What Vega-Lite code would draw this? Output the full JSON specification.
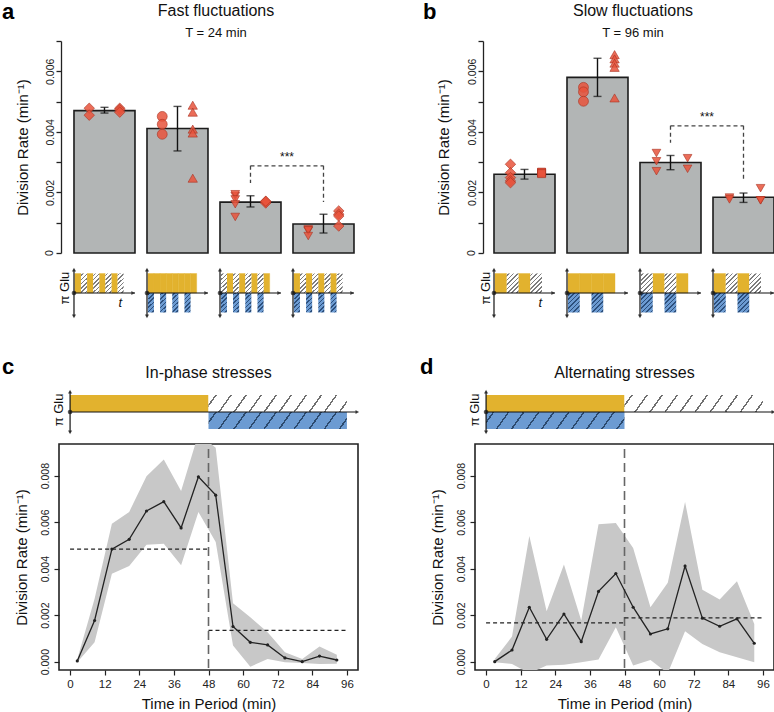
{
"$schema":"https://vega.github.io/schema/vega-lite/v6.json",
"padding":{"left":1,"top":1,"right":0,"bottom":0},
"autosize":{"type":"pad"},
"columns":2,
"spacing":{"row":10,"column":117},
"bounds":"flush",
"resolve":{"scale":{"xOffset":"independent"}},
"datasets":{
"aBars":[
{"cond":"Glucose only","rate":0.00470,"lo":0.00462,"hi":0.00481},
{"cond":"Stress only","rate":0.00411,"lo":0.00337,"hi":0.00484},
{"cond":"Alternating","rate":0.00168,"lo":0.00152,"hi":0.00189},
{"cond":"In-phase","rate":0.00096,"lo":0.00066,"hi":0.00128}],
"bBars":[
{"cond":"Glucose only","rate":0.00260,"lo":0.00244,"hi":0.00276},
{"cond":"Stress only","rate":0.00580,"lo":0.00517,"hi":0.00643},
{"cond":"Alternating","rate":0.00299,"lo":0.00275,"hi":0.00322},
{"cond":"In-phase","rate":0.00184,"lo":0.00167,"hi":0.00198}],
"aPts":[
{"cond":"Glucose only","run":1,"sym":"D","rate":0.00478},
{"cond":"Glucose only","run":1,"sym":"D","rate":0.00455},
{"cond":"Glucose only","run":2,"sym":"D","rate":0.00478},
{"cond":"Glucose only","run":2,"sym":"D","rate":0.00473},
{"cond":"Glucose only","run":2,"sym":"D","rate":0.00465},
{"cond":"Stress only","run":1,"sym":"C","rate":0.00451},
{"cond":"Stress only","run":1,"sym":"C","rate":0.00425},
{"cond":"Stress only","run":1,"sym":"C","rate":0.00392},
{"cond":"Stress only","run":2,"sym":"U","rate":0.00488},
{"cond":"Stress only","run":2,"sym":"U","rate":0.00465},
{"cond":"Stress only","run":2,"sym":"U","rate":0.00409},
{"cond":"Stress only","run":2,"sym":"U","rate":0.00396},
{"cond":"Stress only","run":2,"sym":"U","rate":0.00247},
{"cond":"Alternating","run":1,"sym":"V","rate":0.00188},
{"cond":"Alternating","run":1,"sym":"V","rate":0.00194},
{"cond":"Alternating","run":1,"sym":"V","rate":0.00177},
{"cond":"Alternating","run":1,"sym":"V","rate":0.00161},
{"cond":"Alternating","run":1,"sym":"V","rate":0.00119},
{"cond":"Alternating","run":2,"sym":"D","rate":0.00170},
{"cond":"Alternating","run":2,"sym":"D","rate":0.00168},
{"cond":"Alternating","run":2,"sym":"D","rate":0.00165},
{"cond":"Alternating","run":2,"sym":"D","rate":0.00171},
{"cond":"In-phase","run":1,"sym":"V","rate":0.00078},
{"cond":"In-phase","run":1,"sym":"V","rate":0.00073},
{"cond":"In-phase","run":1,"sym":"V","rate":0.00075},
{"cond":"In-phase","run":1,"sym":"V","rate":0.00056},
{"cond":"In-phase","run":2,"sym":"D","rate":0.00139},
{"cond":"In-phase","run":2,"sym":"D","rate":0.00128},
{"cond":"In-phase","run":2,"sym":"D","rate":0.00122},
{"cond":"In-phase","run":2,"sym":"D","rate":0.00089}],
"bPts":[
{"cond":"Glucose only","run":1,"sym":"D","rate":0.00293},
{"cond":"Glucose only","run":1,"sym":"D","rate":0.00265},
{"cond":"Glucose only","run":1,"sym":"D","rate":0.00249},
{"cond":"Glucose only","run":1,"sym":"D","rate":0.00238},
{"cond":"Glucose only","run":1,"sym":"D","rate":0.00232},
{"cond":"Glucose only","run":2,"sym":"S","rate":0.00265},
{"cond":"Glucose only","run":2,"sym":"S","rate":0.00265},
{"cond":"Glucose only","run":2,"sym":"S","rate":0.00267},
{"cond":"Glucose only","run":2,"sym":"S","rate":0.00262},
{"cond":"Stress only","run":1,"sym":"C","rate":0.00547},
{"cond":"Stress only","run":1,"sym":"C","rate":0.00532},
{"cond":"Stress only","run":1,"sym":"C","rate":0.00501},
{"cond":"Stress only","run":2,"sym":"U","rate":0.00655},
{"cond":"Stress only","run":2,"sym":"U","rate":0.00641},
{"cond":"Stress only","run":2,"sym":"U","rate":0.00627},
{"cond":"Stress only","run":2,"sym":"U","rate":0.00613},
{"cond":"Stress only","run":2,"sym":"U","rate":0.00512},
{"cond":"Alternating","run":1,"sym":"V","rate":0.00330},
{"cond":"Alternating","run":1,"sym":"V","rate":0.00303},
{"cond":"Alternating","run":1,"sym":"V","rate":0.00270},
{"cond":"Alternating","run":2,"sym":"V","rate":0.00313},
{"cond":"Alternating","run":2,"sym":"V","rate":0.00278},
{"cond":"In-phase","run":1,"sym":"V","rate":0.00183},
{"cond":"In-phase","run":1,"sym":"V","rate":0.00177},
{"cond":"In-phase","run":2,"sym":"V","rate":0.00174},
{"cond":"In-phase","run":2,"sym":"V","rate":0.00174},
{"cond":"In-phase","run":2,"sym":"V","rate":0.00214}],
"aSig":[{"from":"Alternating","to":"In-phase","top":0.00288,"endL":0.00231,"endR":0.00168,"textY":0.00303}],
"bSig":[{"from":"Alternating","to":"In-phase","top":0.00420,"endL":0.00364,"endR":0.00238,"textY":0.00435}],
"zeroLab":[{"cond":"Glucose only","rate":0,"label":"0"}],
"aSeg":[
{"cond":"Glucose only","seg":0,"glu":1,"stress":0},{"cond":"Glucose only","seg":1,"glu":0,"stress":0},
{"cond":"Glucose only","seg":2,"glu":1,"stress":0},{"cond":"Glucose only","seg":3,"glu":0,"stress":0},
{"cond":"Glucose only","seg":4,"glu":1,"stress":0},{"cond":"Glucose only","seg":5,"glu":0,"stress":0},
{"cond":"Glucose only","seg":6,"glu":1,"stress":0},{"cond":"Glucose only","seg":7,"glu":0,"stress":0},
{"cond":"Stress only","seg":0,"glu":1,"stress":1},{"cond":"Stress only","seg":1,"glu":1,"stress":0},
{"cond":"Stress only","seg":2,"glu":1,"stress":1},{"cond":"Stress only","seg":3,"glu":1,"stress":0},
{"cond":"Stress only","seg":4,"glu":1,"stress":1},{"cond":"Stress only","seg":5,"glu":1,"stress":0},
{"cond":"Stress only","seg":6,"glu":1,"stress":1},{"cond":"Stress only","seg":7,"glu":1,"stress":0},
{"cond":"Alternating","seg":0,"glu":0,"stress":1},{"cond":"Alternating","seg":1,"glu":1,"stress":0},
{"cond":"Alternating","seg":2,"glu":0,"stress":1},{"cond":"Alternating","seg":3,"glu":1,"stress":0},
{"cond":"Alternating","seg":4,"glu":0,"stress":1},{"cond":"Alternating","seg":5,"glu":1,"stress":0},
{"cond":"Alternating","seg":6,"glu":0,"stress":1},{"cond":"Alternating","seg":7,"glu":1,"stress":0},
{"cond":"In-phase","seg":0,"glu":1,"stress":1},{"cond":"In-phase","seg":1,"glu":0,"stress":0},
{"cond":"In-phase","seg":2,"glu":1,"stress":1},{"cond":"In-phase","seg":3,"glu":0,"stress":0},
{"cond":"In-phase","seg":4,"glu":1,"stress":1},{"cond":"In-phase","seg":5,"glu":0,"stress":0},
{"cond":"In-phase","seg":6,"glu":1,"stress":1},{"cond":"In-phase","seg":7,"glu":0,"stress":0}],
"bSeg":[
{"cond":"Glucose only","seg":0,"glu":1,"stress":0},{"cond":"Glucose only","seg":1,"glu":0,"stress":0},
{"cond":"Glucose only","seg":2,"glu":1,"stress":0},{"cond":"Glucose only","seg":3,"glu":0,"stress":0},
{"cond":"Stress only","seg":0,"glu":1,"stress":1},{"cond":"Stress only","seg":1,"glu":1,"stress":0},
{"cond":"Stress only","seg":2,"glu":1,"stress":1},{"cond":"Stress only","seg":3,"glu":1,"stress":0},
{"cond":"Alternating","seg":0,"glu":0,"stress":1},{"cond":"Alternating","seg":1,"glu":1,"stress":0},
{"cond":"Alternating","seg":2,"glu":0,"stress":1},{"cond":"Alternating","seg":3,"glu":1,"stress":0},
{"cond":"In-phase","seg":0,"glu":1,"stress":1},{"cond":"In-phase","seg":1,"glu":0,"stress":0},
{"cond":"In-phase","seg":2,"glu":1,"stress":1},{"cond":"In-phase","seg":3,"glu":0,"stress":0}],
"cSch":[{"start":0,"end":48,"glu":1,"stress":0},{"start":48,"end":96,"glu":0,"stress":1}],
"dSch":[{"start":0,"end":48,"glu":1,"stress":1},{"start":48,"end":96,"glu":0,"stress":0}],
"cLine":[
{"t":2.5,"rate":0.00003,"lo":-0.00003,"hi":0.0001},
{"t":8.5,"rate":0.00177,"lo":0.00083,"hi":0.0027},
{"t":14.5,"rate":0.00484,"lo":0.00378,"hi":0.00593},
{"t":20.5,"rate":0.00526,"lo":0.00411,"hi":0.00644},
{"t":26.5,"rate":0.00648,"lo":0.00503,"hi":0.00797},
{"t":32.5,"rate":0.00688,"lo":0.00507,"hi":0.00869},
{"t":38.5,"rate":0.00575,"lo":0.00414,"hi":0.00734},
{"t":44.5,"rate":0.00795,"lo":0.00644,"hi":0.0098},
{"t":50.5,"rate":0.00716,"lo":0.00514,"hi":0.0092},
{"t":56.5,"rate":0.00151,"lo":0.00069,"hi":0.00251},
{"t":62.5,"rate":0.00083,"lo":-0.00022,"hi":0.00191},
{"t":68.5,"rate":0.00072,"lo":0.00011,"hi":0.00126},
{"t":74.5,"rate":0.00016,"lo":-0.00003,"hi":0.0004},
{"t":80.5,"rate":0.0,"lo":-0.00006,"hi":0.00011},
{"t":86.5,"rate":0.00024,"lo":-0.0001,"hi":0.00065},
{"t":92.5,"rate":0.00007,"lo":-0.00009,"hi":0.0003}],
"dLine":[
{"t":3,"rate":0.0,"lo":-0.00003,"hi":0.00011},
{"t":9,"rate":0.0005,"lo":-0.0001,"hi":0.00108},
{"t":15,"rate":0.00234,"lo":-0.0005,"hi":0.0054},
{"t":21,"rate":0.00096,"lo":-0.00017,"hi":0.00217},
{"t":27,"rate":0.00205,"lo":-0.00013,"hi":0.00418},
{"t":33,"rate":0.00086,"lo":-0.00003,"hi":0.00177},
{"t":39,"rate":0.00302,"lo":0.00009,"hi":0.00591},
{"t":45,"rate":0.00379,"lo":0.00148,"hi":0.00596},
{"t":51,"rate":0.00234,"lo":-0.00017,"hi":0.00489},
{"t":57,"rate":0.00119,"lo":0.00007,"hi":0.00234},
{"t":63,"rate":0.00141,"lo":-0.0005,"hi":0.00339},
{"t":69,"rate":0.00411,"lo":0.00131,"hi":0.00687},
{"t":75,"rate":0.00187,"lo":0.00076,"hi":0.00309},
{"t":81,"rate":0.00152,"lo":0.0004,"hi":0.00267},
{"t":87,"rate":0.00184,"lo":0.00019,"hi":0.00346},
{"t":93,"rate":0.00079,"lo":-0.00003,"hi":0.00162}],
"cMean":[{"t0":0,"t1":48,"m":0.00484},{"t0":48,"t1":96,"m":0.00134}],
"dMean":[{"t0":0,"t1":48,"m":0.00167},{"t0":48,"t1":96,"m":0.00188}],
"one":[{}]
},
"concat":[
{
"width":299,"height":212,"view":{"stroke":null},
"title":{"text":"Fast fluctuations","subtitle":"T = 24 min","fontSize":16,"subtitleFontSize":13,"fontWeight":"normal","color":"#111","subtitleColor":"#111","anchor":"middle","frame":"group","dx":7.5,"offset":0,"subtitlePadding":8},
"layer":[
{"data":{"name":"aBars"},"mark":{"type":"bar","fill":"#B2B5B5","stroke":"#1c1c1c","strokeWidth":1.6},
"encoding":{"x":{"field":"cond","type":"nominal","scale":{"type":"band","domain":["Glucose only","Stress only","Alternating","In-phase"],"paddingInner":0.1644,"paddingOuter":0.1301,"align":0.789},"axis":null},
"y":{"field":"rate","type":"quantitative","scale":{"domain":[0,0.007],"nice":false,"zero":false},"axis":{"orient":"left","offset":-2,"values":[0,0.001,0.002,0.003,0.004,0.005,0.006,0.007],"tickCount":30,"labelExpr":"datum.value < 0.0005 ? '' : (round(datum.value*1000) % 2 == 0 ? format(datum.value, '.3f') : '')","labelAngle":270,"labelAlign":"center","labelBaseline":"bottom","labelFontSize":10.5,"labelPadding":1,"labelFlush":false,"labelBound":false,"tickSize":5,"tickWidth":1.3,"tickColor":"#222","domainColor":"#222","domainWidth":1.3,"title":"Division Rate (min⁻¹)","titleFontSize":15,"titlePadding":15,"titleFontWeight":"normal"}}}},
{"data":{"name":"zeroLab"},"mark":{"type":"text","angle":270,"fontSize":10.5,"align":"center","baseline":"bottom","fill":"#222"},"encoding":{"x":{"field":"cond","type":"nominal","bandPosition":-0.311,"axis":null},"y":{"field":"rate","type":"quantitative"},"text":{"field":"label"}}},
{"data":{"name":"aBars"},"mark":{"type":"rule","stroke":"#111","strokeWidth":1.4},"encoding":{"x":{"field":"cond","type":"nominal","axis":null},"y":{"field":"lo","type":"quantitative"},"y2":{"field":"hi"}}},
{"data":{"name":"aBars"},"mark":{"type":"tick","color":"#111","thickness":1.4,"size":8},"encoding":{"x":{"field":"cond","type":"nominal","axis":null},"y":{"field":"lo","type":"quantitative"}}},
{"data":{"name":"aBars"},"mark":{"type":"tick","color":"#111","thickness":1.4,"size":8},"encoding":{"x":{"field":"cond","type":"nominal","axis":null},"y":{"field":"hi","type":"quantitative"}}},
{"data":{"name":"aPts"},"transform":[{"filter":"datum.run == 1"}],"mark":{"type":"point","filled":true,"fill":"#E8533C","fillOpacity":0.85,"stroke":"#A83222","strokeWidth":0.6},"encoding":{"x":{"field":"cond","type":"nominal","bandPosition":0.25,"axis":null},"y":{"field":"rate","type":"quantitative"},"shape":{"field":"sym","type":"nominal","scale":{"domain":["D","C","U","V","S"],"range":["diamond","circle","triangle-up","triangle-down","square"]},"legend":null},"size":{"field":"sym","type":"nominal","scale":{"domain":["D","C","U","V","S"],"range":[110,64,100,100,56]},"legend":null}}},
{"data":{"name":"aPts"},"transform":[{"filter":"datum.run == 2"}],"mark":{"type":"point","filled":true,"fill":"#E8533C","fillOpacity":0.85,"stroke":"#A83222","strokeWidth":0.6},"encoding":{"x":{"field":"cond","type":"nominal","bandPosition":0.75,"axis":null},"y":{"field":"rate","type":"quantitative"},"shape":{"field":"sym","type":"nominal","legend":null},"size":{"field":"sym","type":"nominal","legend":null}}},
{"data":{"name":"aSig"},"mark":{"type":"rule","stroke":"#444","strokeWidth":1.3,"strokeDash":[4,3]},"encoding":{"x":{"field":"from","type":"nominal","axis":null},"x2":{"field":"to"},"y":{"field":"top","type":"quantitative"}}},
{"data":{"name":"aSig"},"mark":{"type":"rule","stroke":"#444","strokeWidth":1.3,"strokeDash":[4,3]},"encoding":{"x":{"field":"from","type":"nominal","axis":null},"y":{"field":"top","type":"quantitative"},"y2":{"field":"endL"}}},
{"data":{"name":"aSig"},"mark":{"type":"rule","stroke":"#444","strokeWidth":1.3,"strokeDash":[4,3]},"encoding":{"x":{"field":"to","type":"nominal","axis":null},"y":{"field":"top","type":"quantitative"},"y2":{"field":"endR"}}},
{"data":{"name":"aSig"},"mark":{"type":"text","text":"***","fontSize":12,"baseline":"alphabetic","align":"center","fill":"#111"},"encoding":{"x":{"field":"from","type":"nominal","bandPosition":1.098,"axis":null},"y":{"field":"textY","type":"quantitative"}}}
]
},
{
"width":299,"height":212,"view":{"stroke":null},
"title":{"text":"Slow fluctuations","subtitle":"T = 96 min","fontSize":16,"subtitleFontSize":13,"fontWeight":"normal","color":"#111","subtitleColor":"#111","anchor":"middle","frame":"group","dx":8.5,"offset":0,"subtitlePadding":8},
"layer":[
{"data":{"name":"bBars"},"mark":{"type":"bar","fill":"#B2B5B5","stroke":"#1c1c1c","strokeWidth":1.6},
"encoding":{"x":{"field":"cond","type":"nominal","scale":{"type":"band","domain":["Glucose only","Stress only","Alternating","In-phase"],"paddingInner":0.1644,"paddingOuter":0.1301,"align":1},"axis":null},
"y":{"field":"rate","type":"quantitative","scale":{"domain":[0,0.007],"nice":false,"zero":false},"axis":{"orient":"left","offset":-8,"values":[0,0.001,0.002,0.003,0.004,0.005,0.006,0.007],"tickCount":30,"labelExpr":"datum.value < 0.0005 ? '' : (round(datum.value*1000) % 2 == 0 ? format(datum.value, '.3f') : '')","labelAngle":270,"labelAlign":"center","labelBaseline":"bottom","labelFontSize":10.5,"labelPadding":1,"labelFlush":false,"labelBound":false,"tickSize":5,"tickWidth":1.3,"tickColor":"#222","domainColor":"#222","domainWidth":1.3,"title":"Division Rate (min⁻¹)","titleFontSize":15,"titlePadding":16,"titleFontWeight":"normal"}}}},
{"data":{"name":"zeroLab"},"mark":{"type":"text","angle":270,"fontSize":10.5,"align":"center","baseline":"bottom","fill":"#222"},"encoding":{"x":{"field":"cond","type":"nominal","bandPosition":-0.279,"axis":null},"y":{"field":"rate","type":"quantitative"},"text":{"field":"label"}}},
{"data":{"name":"bBars"},"mark":{"type":"rule","stroke":"#111","strokeWidth":1.4},"encoding":{"x":{"field":"cond","type":"nominal","axis":null},"y":{"field":"lo","type":"quantitative"},"y2":{"field":"hi"}}},
{"data":{"name":"bBars"},"mark":{"type":"tick","color":"#111","thickness":1.4,"size":8},"encoding":{"x":{"field":"cond","type":"nominal","axis":null},"y":{"field":"lo","type":"quantitative"}}},
{"data":{"name":"bBars"},"mark":{"type":"tick","color":"#111","thickness":1.4,"size":8},"encoding":{"x":{"field":"cond","type":"nominal","axis":null},"y":{"field":"hi","type":"quantitative"}}},
{"data":{"name":"bPts"},"transform":[{"filter":"datum.run == 1"}],"mark":{"type":"point","filled":true,"fill":"#E8533C","fillOpacity":0.85,"stroke":"#A83222","strokeWidth":0.6},"encoding":{"x":{"field":"cond","type":"nominal","bandPosition":0.27,"axis":null},"y":{"field":"rate","type":"quantitative"},"shape":{"field":"sym","type":"nominal","scale":{"domain":["D","C","U","V","S"],"range":["diamond","circle","triangle-up","triangle-down","square"]},"legend":null},"size":{"field":"sym","type":"nominal","scale":{"domain":["D","C","U","V","S"],"range":[110,64,100,100,56]},"legend":null}}},
{"data":{"name":"bPts"},"transform":[{"filter":"datum.run == 2"}],"mark":{"type":"point","filled":true,"fill":"#E8533C","fillOpacity":0.85,"stroke":"#A83222","strokeWidth":0.6},"encoding":{"x":{"field":"cond","type":"nominal","bandPosition":0.78,"axis":null},"y":{"field":"rate","type":"quantitative"},"shape":{"field":"sym","type":"nominal","legend":null},"size":{"field":"sym","type":"nominal","legend":null}}},
{"data":{"name":"bSig"},"mark":{"type":"rule","stroke":"#444","strokeWidth":1.3,"strokeDash":[4,3]},"encoding":{"x":{"field":"from","type":"nominal","axis":null},"x2":{"field":"to"},"y":{"field":"top","type":"quantitative"}}},
{"data":{"name":"bSig"},"mark":{"type":"rule","stroke":"#444","strokeWidth":1.3,"strokeDash":[4,3]},"encoding":{"x":{"field":"from","type":"nominal","axis":null},"y":{"field":"top","type":"quantitative"},"y2":{"field":"endL"}}},
{"data":{"name":"bSig"},"mark":{"type":"rule","stroke":"#444","strokeWidth":1.3,"strokeDash":[4,3]},"encoding":{"x":{"field":"to","type":"nominal","axis":null},"y":{"field":"top","type":"quantitative"},"y2":{"field":"endR"}}},
{"data":{"name":"bSig"},"mark":{"type":"text","text":"***","fontSize":12,"baseline":"alphabetic","align":"center","fill":"#111"},"encoding":{"x":{"field":"from","type":"nominal","bandPosition":1.098,"axis":null},"y":{"field":"textY","type":"quantitative"}}}
]
},
{
"width":299,"height":117,"view":{"stroke":null},
"layer":[
{"data":{"name":"aSeg"},"transform":[{"filter":"datum.glu == 1"}],"mark":{"type":"bar","fill":"#E2B22E","stroke":"#E2B22E","strokeWidth":0.4},
"encoding":{"x":{"field":"cond","type":"nominal","scale":{"type":"band","domain":["Glucose only","Stress only","Alternating","In-phase"],"paddingInner":0.1644,"paddingOuter":0.1301,"align":0.789},"axis":null},
"xOffset":{"field":"seg","type":"nominal","scale":{"domain":[0,1,2,3,4,5,6,7],"paddingInner":0,"paddingOuter":1.191,"align":0.0714}},
"y":{"datum":1,"type":"quantitative","scale":{"domain":[-4.4615,1.5385],"nice":false,"zero":false},"axis":null},"y2":{"datum":0}}},
{"data":{"name":"aSeg"},"transform":[{"filter":"datum.glu == 0"}],"mark":{"type":"bar","fill":{"gradient":"linear","x1":0,"y1":0,"x2":0.359,"y2":1.193,"stops":[
{"offset":0,"color":"#ffffff"},
{"offset":0.053,"color":"#ffffff"},{"offset":0.053,"color":"#7d7d7d"},{"offset":0.113,"color":"#7d7d7d"},{"offset":0.113,"color":"#ffffff"},
{"offset":0.22,"color":"#ffffff"},{"offset":0.22,"color":"#7d7d7d"},{"offset":0.28,"color":"#7d7d7d"},{"offset":0.28,"color":"#ffffff"},
{"offset":0.387,"color":"#ffffff"},{"offset":0.387,"color":"#7d7d7d"},{"offset":0.447,"color":"#7d7d7d"},{"offset":0.447,"color":"#ffffff"},
{"offset":0.553,"color":"#ffffff"},{"offset":0.553,"color":"#7d7d7d"},{"offset":0.613,"color":"#7d7d7d"},{"offset":0.613,"color":"#ffffff"},
{"offset":0.72,"color":"#ffffff"},{"offset":0.72,"color":"#7d7d7d"},{"offset":0.78,"color":"#7d7d7d"},{"offset":0.78,"color":"#ffffff"},
{"offset":0.887,"color":"#ffffff"},{"offset":0.887,"color":"#7d7d7d"},{"offset":0.947,"color":"#7d7d7d"},{"offset":0.947,"color":"#ffffff"},
{"offset":1,"color":"#ffffff"}]}},
"encoding":{"x":{"field":"cond","type":"nominal","axis":null},"xOffset":{"field":"seg","type":"nominal"},"y":{"datum":1,"type":"quantitative","axis":null},"y2":{"datum":0}}},
{"data":{"name":"aSeg"},"transform":[{"filter":"datum.stress == 1"}],"mark":{"type":"bar","fill":{"gradient":"linear","x1":0,"y1":0,"x2":0.359,"y2":1.193,"stops":[
{"offset":0,"color":"#6C9BD2"},
{"offset":0.053,"color":"#6C9BD2"},{"offset":0.053,"color":"#2C4F7C"},{"offset":0.113,"color":"#2C4F7C"},{"offset":0.113,"color":"#6C9BD2"},
{"offset":0.22,"color":"#6C9BD2"},{"offset":0.22,"color":"#2C4F7C"},{"offset":0.28,"color":"#2C4F7C"},{"offset":0.28,"color":"#6C9BD2"},
{"offset":0.387,"color":"#6C9BD2"},{"offset":0.387,"color":"#2C4F7C"},{"offset":0.447,"color":"#2C4F7C"},{"offset":0.447,"color":"#6C9BD2"},
{"offset":0.553,"color":"#6C9BD2"},{"offset":0.553,"color":"#2C4F7C"},{"offset":0.613,"color":"#2C4F7C"},{"offset":0.613,"color":"#6C9BD2"},
{"offset":0.72,"color":"#6C9BD2"},{"offset":0.72,"color":"#2C4F7C"},{"offset":0.78,"color":"#2C4F7C"},{"offset":0.78,"color":"#6C9BD2"},
{"offset":0.887,"color":"#6C9BD2"},{"offset":0.887,"color":"#2C4F7C"},{"offset":0.947,"color":"#2C4F7C"},{"offset":0.947,"color":"#6C9BD2"},
{"offset":1,"color":"#6C9BD2"}]}},
"encoding":{"x":{"field":"cond","type":"nominal","axis":null},"xOffset":{"field":"seg","type":"nominal"},"y":{"datum":0,"type":"quantitative","axis":null},"y2":{"datum":-1}}},
{"data":{"name":"aBars"},"mark":{"type":"rule","stroke":"#111","strokeWidth":1.2},"encoding":{"x":{"field":"cond","type":"nominal","bandPosition":0,"axis":null},"y":{"datum":-1.2,"type":"quantitative","axis":null},"y2":{"datum":1.2}}},
{"data":{"name":"aBars"},"mark":{"type":"bar","filled":false,"stroke":"#111","strokeWidth":1.2},"encoding":{"x":{"field":"cond","type":"nominal","axis":null},"y":{"datum":0,"type":"quantitative","axis":null},"y2":{"datum":0}}},
{"data":{"name":"aBars"},"mark":{"type":"point","shape":"triangle-up","filled":true,"color":"#111","size":18},"encoding":{"x":{"field":"cond","type":"nominal","bandPosition":0,"axis":null},"y":{"datum":1.2,"type":"quantitative","axis":null}}},
{"data":{"name":"aBars"},"mark":{"type":"point","shape":"triangle-down","filled":true,"color":"#111","size":18},"encoding":{"x":{"field":"cond","type":"nominal","bandPosition":0,"axis":null},"y":{"datum":-1.2,"type":"quantitative","axis":null}}},
{"data":{"name":"aBars"},"mark":{"type":"point","shape":"triangle-right","filled":true,"color":"#111","size":18},"encoding":{"x":{"field":"cond","type":"nominal","bandPosition":0.97,"axis":null},"y":{"datum":0,"type":"quantitative","axis":null}}},
{"data":{"name":"aBars"},"mark":{"type":"point","shape":"circle","filled":true,"color":"#111","size":22},"encoding":{"x":{"field":"cond","type":"nominal","bandPosition":0,"axis":null},"y":{"datum":0,"type":"quantitative","axis":null}}},
{"data":{"values":[{"cond":"Glucose only","label":"π Glu"}]},"mark":{"type":"text","angle":270,"fontSize":13,"align":"center","baseline":"middle","fill":"#111"},"encoding":{"x":{"field":"cond","type":"nominal","bandPosition":-0.14,"axis":null},"y":{"datum":0.25,"type":"quantitative","axis":null},"text":{"field":"label"}}},
{"data":{"values":[{"cond":"Glucose only","label":"t"}]},"mark":{"type":"text","fontSize":13,"fontStyle":"italic","align":"center","baseline":"middle","fill":"#111"},"encoding":{"x":{"field":"cond","type":"nominal","bandPosition":0.76,"axis":null},"y":{"datum":-0.5,"type":"quantitative","axis":null},"text":{"field":"label"}}},
{"data":{"values":[{"cond":"Glucose only","label":"a"}]},"mark":{"type":"text","fontSize":22,"fontWeight":"bold","align":"left","baseline":"top","fill":"#000"},"encoding":{"x":{"field":"cond","type":"nominal","bandPosition":-1.18,"axis":null},"y":{"datum":14.923,"type":"quantitative","axis":null},"text":{"field":"label"}}}
]
},
{
"width":299,"height":117,"view":{"stroke":null},
"layer":[
{"data":{"name":"bSeg"},"transform":[{"filter":"datum.glu == 1"}],"mark":{"type":"bar","fill":"#E2B22E","stroke":"#E2B22E","strokeWidth":0.4},
"encoding":{"x":{"field":"cond","type":"nominal","scale":{"type":"band","domain":["Glucose only","Stress only","Alternating","In-phase"],"paddingInner":0.1644,"paddingOuter":0.1301,"align":1},"axis":null},
"xOffset":{"field":"seg","type":"nominal","scale":{"domain":[0,1,2,3],"paddingInner":0,"paddingOuter":0.596,"align":0.0714}},
"y":{"datum":1,"type":"quantitative","scale":{"domain":[-4.4615,1.5385],"nice":false,"zero":false},"axis":null},"y2":{"datum":0}}},
{"data":{"name":"bSeg"},"transform":[{"filter":"datum.glu == 0"}],"mark":{"type":"bar","fill":{"gradient":"linear","x1":0,"y1":0,"x2":0.7085,"y2":1.1757,"stops":[
{"offset":0,"color":"#ffffff"},
{"offset":0.044,"color":"#ffffff"},{"offset":0.044,"color":"#7d7d7d"},{"offset":0.098,"color":"#7d7d7d"},{"offset":0.098,"color":"#ffffff"},
{"offset":0.187,"color":"#ffffff"},{"offset":0.187,"color":"#7d7d7d"},{"offset":0.241,"color":"#7d7d7d"},{"offset":0.241,"color":"#ffffff"},
{"offset":0.33,"color":"#ffffff"},{"offset":0.33,"color":"#7d7d7d"},{"offset":0.384,"color":"#7d7d7d"},{"offset":0.384,"color":"#ffffff"},
{"offset":0.473,"color":"#ffffff"},{"offset":0.473,"color":"#7d7d7d"},{"offset":0.527,"color":"#7d7d7d"},{"offset":0.527,"color":"#ffffff"},
{"offset":0.616,"color":"#ffffff"},{"offset":0.616,"color":"#7d7d7d"},{"offset":0.67,"color":"#7d7d7d"},{"offset":0.67,"color":"#ffffff"},
{"offset":0.759,"color":"#ffffff"},{"offset":0.759,"color":"#7d7d7d"},{"offset":0.813,"color":"#7d7d7d"},{"offset":0.813,"color":"#ffffff"},
{"offset":0.902,"color":"#ffffff"},{"offset":0.902,"color":"#7d7d7d"},{"offset":0.956,"color":"#7d7d7d"},{"offset":0.956,"color":"#ffffff"},
{"offset":1,"color":"#ffffff"}]}},
"encoding":{"x":{"field":"cond","type":"nominal","axis":null},"xOffset":{"field":"seg","type":"nominal"},"y":{"datum":1,"type":"quantitative","axis":null},"y2":{"datum":0}}},
{"data":{"name":"bSeg"},"transform":[{"filter":"datum.stress == 1"}],"mark":{"type":"bar","fill":{"gradient":"linear","x1":0,"y1":0,"x2":0.7085,"y2":1.1757,"stops":[
{"offset":0,"color":"#6C9BD2"},
{"offset":0.044,"color":"#6C9BD2"},{"offset":0.044,"color":"#2C4F7C"},{"offset":0.098,"color":"#2C4F7C"},{"offset":0.098,"color":"#6C9BD2"},
{"offset":0.187,"color":"#6C9BD2"},{"offset":0.187,"color":"#2C4F7C"},{"offset":0.241,"color":"#2C4F7C"},{"offset":0.241,"color":"#6C9BD2"},
{"offset":0.33,"color":"#6C9BD2"},{"offset":0.33,"color":"#2C4F7C"},{"offset":0.384,"color":"#2C4F7C"},{"offset":0.384,"color":"#6C9BD2"},
{"offset":0.473,"color":"#6C9BD2"},{"offset":0.473,"color":"#2C4F7C"},{"offset":0.527,"color":"#2C4F7C"},{"offset":0.527,"color":"#6C9BD2"},
{"offset":0.616,"color":"#6C9BD2"},{"offset":0.616,"color":"#2C4F7C"},{"offset":0.67,"color":"#2C4F7C"},{"offset":0.67,"color":"#6C9BD2"},
{"offset":0.759,"color":"#6C9BD2"},{"offset":0.759,"color":"#2C4F7C"},{"offset":0.813,"color":"#2C4F7C"},{"offset":0.813,"color":"#6C9BD2"},
{"offset":0.902,"color":"#6C9BD2"},{"offset":0.902,"color":"#2C4F7C"},{"offset":0.956,"color":"#2C4F7C"},{"offset":0.956,"color":"#6C9BD2"},
{"offset":1,"color":"#6C9BD2"}]}},
"encoding":{"x":{"field":"cond","type":"nominal","axis":null},"xOffset":{"field":"seg","type":"nominal"},"y":{"datum":0,"type":"quantitative","axis":null},"y2":{"datum":-1}}},
{"data":{"name":"bBars"},"mark":{"type":"rule","stroke":"#111","strokeWidth":1.2},"encoding":{"x":{"field":"cond","type":"nominal","bandPosition":0,"axis":null},"y":{"datum":-1.2,"type":"quantitative","axis":null},"y2":{"datum":1.2}}},
{"data":{"name":"bBars"},"mark":{"type":"bar","filled":false,"stroke":"#111","strokeWidth":1.2},"encoding":{"x":{"field":"cond","type":"nominal","axis":null},"y":{"datum":0,"type":"quantitative","axis":null},"y2":{"datum":0}}},
{"data":{"name":"bBars"},"mark":{"type":"point","shape":"triangle-up","filled":true,"color":"#111","size":18},"encoding":{"x":{"field":"cond","type":"nominal","bandPosition":0,"axis":null},"y":{"datum":1.2,"type":"quantitative","axis":null}}},
{"data":{"name":"bBars"},"mark":{"type":"point","shape":"triangle-down","filled":true,"color":"#111","size":18},"encoding":{"x":{"field":"cond","type":"nominal","bandPosition":0,"axis":null},"y":{"datum":-1.2,"type":"quantitative","axis":null}}},
{"data":{"name":"bBars"},"mark":{"type":"point","shape":"triangle-right","filled":true,"color":"#111","size":18},"encoding":{"x":{"field":"cond","type":"nominal","bandPosition":0.97,"axis":null},"y":{"datum":0,"type":"quantitative","axis":null}}},
{"data":{"name":"bBars"},"mark":{"type":"point","shape":"circle","filled":true,"color":"#111","size":22},"encoding":{"x":{"field":"cond","type":"nominal","bandPosition":0,"axis":null},"y":{"datum":0,"type":"quantitative","axis":null}}},
{"data":{"values":[{"cond":"Glucose only","label":"π Glu"}]},"mark":{"type":"text","angle":270,"fontSize":13,"align":"center","baseline":"middle","fill":"#111"},"encoding":{"x":{"field":"cond","type":"nominal","bandPosition":-0.13,"axis":null},"y":{"datum":0.25,"type":"quantitative","axis":null},"text":{"field":"label"}}},
{"data":{"values":[{"cond":"Glucose only","label":"t"}]},"mark":{"type":"text","fontSize":13,"fontStyle":"italic","align":"center","baseline":"middle","fill":"#111"},"encoding":{"x":{"field":"cond","type":"nominal","bandPosition":0.76,"axis":null},"y":{"datum":-0.5,"type":"quantitative","axis":null},"text":{"field":"label"}}},
{"data":{"values":[{"cond":"Glucose only","label":"b"}]},"mark":{"type":"text","fontSize":22,"fontWeight":"bold","align":"left","baseline":"top","fill":"#000"},"encoding":{"x":{"field":"cond","type":"nominal","bandPosition":-1.164,"axis":null},"y":{"datum":14.923,"type":"quantitative","axis":null},"text":{"field":"label"}}}
]
},
{
"width":299,"height":44,"view":{"stroke":null},
"layer":[
{"data":{"name":"cSch"},"transform":[{"filter":"datum.glu == 1"}],"mark":{"type":"rect","fill":"#E2B22E"},"encoding":{"x":{"field":"start","type":"quantitative","scale":{"domain":[-3.84,99.84],"nice":false,"zero":false},"axis":null},"x2":{"field":"end"},"y":{"datum":1,"type":"quantitative","scale":{"domain":[-1.294,1.294],"nice":false,"zero":false},"axis":null},"y2":{"datum":0}}},
{"data":{"name":"cSch"},"transform":[{"filter":"datum.glu == 0"}],"mark":{"type":"rect","fill":{"gradient":"linear","x1":0,"y1":0,"x2":1.0795,"y2":0.0947,"stops":[
{"offset":0,"color":"#ffffff"},
{"offset":0.044,"color":"#ffffff"},{"offset":0.044,"color":"#707070"},{"offset":0.056,"color":"#707070"},{"offset":0.056,"color":"#ffffff"},
{"offset":0.144,"color":"#ffffff"},{"offset":0.144,"color":"#707070"},{"offset":0.156,"color":"#707070"},{"offset":0.156,"color":"#ffffff"},
{"offset":0.244,"color":"#ffffff"},{"offset":0.244,"color":"#707070"},{"offset":0.256,"color":"#707070"},{"offset":0.256,"color":"#ffffff"},
{"offset":0.344,"color":"#ffffff"},{"offset":0.344,"color":"#707070"},{"offset":0.356,"color":"#707070"},{"offset":0.356,"color":"#ffffff"},
{"offset":0.444,"color":"#ffffff"},{"offset":0.444,"color":"#707070"},{"offset":0.456,"color":"#707070"},{"offset":0.456,"color":"#ffffff"},
{"offset":0.544,"color":"#ffffff"},{"offset":0.544,"color":"#707070"},{"offset":0.556,"color":"#707070"},{"offset":0.556,"color":"#ffffff"},
{"offset":0.644,"color":"#ffffff"},{"offset":0.644,"color":"#707070"},{"offset":0.656,"color":"#707070"},{"offset":0.656,"color":"#ffffff"},
{"offset":0.744,"color":"#ffffff"},{"offset":0.744,"color":"#707070"},{"offset":0.756,"color":"#707070"},{"offset":0.756,"color":"#ffffff"},
{"offset":0.844,"color":"#ffffff"},{"offset":0.844,"color":"#707070"},{"offset":0.856,"color":"#707070"},{"offset":0.856,"color":"#ffffff"},
{"offset":0.944,"color":"#ffffff"},{"offset":0.944,"color":"#707070"},{"offset":0.956,"color":"#707070"},{"offset":0.956,"color":"#ffffff"},
{"offset":1,"color":"#ffffff"}]}},"encoding":{"x":{"field":"start","type":"quantitative","axis":null},"x2":{"field":"end"},"y":{"datum":1,"type":"quantitative","axis":null},"y2":{"datum":0}}},
{"data":{"name":"cSch"},"transform":[{"filter":"datum.stress == 1"}],"mark":{"type":"rect","fill":{"gradient":"linear","x1":0,"y1":0,"x2":1.0795,"y2":0.0947,"stops":[
{"offset":0,"color":"#6C9BD2"},
{"offset":0.044,"color":"#6C9BD2"},{"offset":0.044,"color":"#2C4A6E"},{"offset":0.056,"color":"#2C4A6E"},{"offset":0.056,"color":"#6C9BD2"},
{"offset":0.144,"color":"#6C9BD2"},{"offset":0.144,"color":"#2C4A6E"},{"offset":0.156,"color":"#2C4A6E"},{"offset":0.156,"color":"#6C9BD2"},
{"offset":0.244,"color":"#6C9BD2"},{"offset":0.244,"color":"#2C4A6E"},{"offset":0.256,"color":"#2C4A6E"},{"offset":0.256,"color":"#6C9BD2"},
{"offset":0.344,"color":"#6C9BD2"},{"offset":0.344,"color":"#2C4A6E"},{"offset":0.356,"color":"#2C4A6E"},{"offset":0.356,"color":"#6C9BD2"},
{"offset":0.444,"color":"#6C9BD2"},{"offset":0.444,"color":"#2C4A6E"},{"offset":0.456,"color":"#2C4A6E"},{"offset":0.456,"color":"#6C9BD2"},
{"offset":0.544,"color":"#6C9BD2"},{"offset":0.544,"color":"#2C4A6E"},{"offset":0.556,"color":"#2C4A6E"},{"offset":0.556,"color":"#6C9BD2"},
{"offset":0.644,"color":"#6C9BD2"},{"offset":0.644,"color":"#2C4A6E"},{"offset":0.656,"color":"#2C4A6E"},{"offset":0.656,"color":"#6C9BD2"},
{"offset":0.744,"color":"#6C9BD2"},{"offset":0.744,"color":"#2C4A6E"},{"offset":0.756,"color":"#2C4A6E"},{"offset":0.756,"color":"#6C9BD2"},
{"offset":0.844,"color":"#6C9BD2"},{"offset":0.844,"color":"#2C4A6E"},{"offset":0.856,"color":"#2C4A6E"},{"offset":0.856,"color":"#6C9BD2"},
{"offset":0.944,"color":"#6C9BD2"},{"offset":0.944,"color":"#2C4A6E"},{"offset":0.956,"color":"#2C4A6E"},{"offset":0.956,"color":"#6C9BD2"},
{"offset":1,"color":"#6C9BD2"}]}},"encoding":{"x":{"field":"start","type":"quantitative","axis":null},"x2":{"field":"end"},"y":{"datum":0,"type":"quantitative","axis":null},"y2":{"datum":-1}}},
{"data":{"name":"one"},"mark":{"type":"rule","stroke":"#111","strokeWidth":1.2},"encoding":{"x":{"datum":0,"type":"quantitative","axis":null},"y":{"datum":-1.2,"type":"quantitative","axis":null},"y2":{"datum":1.2}}},
{"data":{"name":"one"},"mark":{"type":"rule","stroke":"#111","strokeWidth":1.2},"encoding":{"x":{"datum":0,"type":"quantitative","axis":null},"x2":{"datum":99.6},"y":{"datum":0,"type":"quantitative","axis":null}}},
{"data":{"name":"one"},"mark":{"type":"point","shape":"triangle-up","filled":true,"color":"#111","size":18},"encoding":{"x":{"datum":0,"type":"quantitative","axis":null},"y":{"datum":1.2,"type":"quantitative","axis":null}}},
{"data":{"name":"one"},"mark":{"type":"point","shape":"triangle-down","filled":true,"color":"#111","size":18},"encoding":{"x":{"datum":0,"type":"quantitative","axis":null},"y":{"datum":-1.2,"type":"quantitative","axis":null}}},
{"data":{"name":"one"},"mark":{"type":"point","shape":"triangle-right","filled":true,"color":"#111","size":18},"encoding":{"x":{"datum":99.6,"type":"quantitative","axis":null},"y":{"datum":0,"type":"quantitative","axis":null}}},
{"data":{"name":"one"},"mark":{"type":"point","shape":"circle","filled":true,"color":"#111","size":22},"encoding":{"x":{"datum":0,"type":"quantitative","axis":null},"y":{"datum":0,"type":"quantitative","axis":null}}},
{"data":{"name":"one"},"mark":{"type":"text","text":"π Glu","angle":270,"fontSize":13,"align":"center","baseline":"middle","fill":"#111"},"encoding":{"x":{"datum":-3.74,"type":"quantitative","axis":null},"y":{"datum":0.12,"type":"quantitative","axis":null}}},
{"data":{"name":"one"},"mark":{"type":"text","text":"In-phase stresses","fontSize":16,"align":"center","baseline":"alphabetic","fill":"#111"},"encoding":{"x":{"datum":48,"type":"quantitative","axis":null},"y":{"datum":2.0,"type":"quantitative","axis":null}}}
]
},
{
"width":299,"height":44,"view":{"stroke":null},
"layer":[
{"data":{"name":"dSch"},"transform":[{"filter":"datum.glu == 1"}],"mark":{"type":"rect","fill":"#E2B22E"},"encoding":{"x":{"field":"start","type":"quantitative","scale":{"domain":[-3.84,99.84],"nice":false,"zero":false},"axis":null},"x2":{"field":"end"},"y":{"datum":1,"type":"quantitative","scale":{"domain":[-1.294,1.294],"nice":false,"zero":false},"axis":null},"y2":{"datum":0}}},
{"data":{"name":"dSch"},"transform":[{"filter":"datum.glu == 0"}],"mark":{"type":"rect","fill":{"gradient":"linear","x1":0,"y1":0,"x2":1.0795,"y2":0.0947,"stops":[
{"offset":0,"color":"#ffffff"},
{"offset":0.044,"color":"#ffffff"},{"offset":0.044,"color":"#707070"},{"offset":0.056,"color":"#707070"},{"offset":0.056,"color":"#ffffff"},
{"offset":0.144,"color":"#ffffff"},{"offset":0.144,"color":"#707070"},{"offset":0.156,"color":"#707070"},{"offset":0.156,"color":"#ffffff"},
{"offset":0.244,"color":"#ffffff"},{"offset":0.244,"color":"#707070"},{"offset":0.256,"color":"#707070"},{"offset":0.256,"color":"#ffffff"},
{"offset":0.344,"color":"#ffffff"},{"offset":0.344,"color":"#707070"},{"offset":0.356,"color":"#707070"},{"offset":0.356,"color":"#ffffff"},
{"offset":0.444,"color":"#ffffff"},{"offset":0.444,"color":"#707070"},{"offset":0.456,"color":"#707070"},{"offset":0.456,"color":"#ffffff"},
{"offset":0.544,"color":"#ffffff"},{"offset":0.544,"color":"#707070"},{"offset":0.556,"color":"#707070"},{"offset":0.556,"color":"#ffffff"},
{"offset":0.644,"color":"#ffffff"},{"offset":0.644,"color":"#707070"},{"offset":0.656,"color":"#707070"},{"offset":0.656,"color":"#ffffff"},
{"offset":0.744,"color":"#ffffff"},{"offset":0.744,"color":"#707070"},{"offset":0.756,"color":"#707070"},{"offset":0.756,"color":"#ffffff"},
{"offset":0.844,"color":"#ffffff"},{"offset":0.844,"color":"#707070"},{"offset":0.856,"color":"#707070"},{"offset":0.856,"color":"#ffffff"},
{"offset":0.944,"color":"#ffffff"},{"offset":0.944,"color":"#707070"},{"offset":0.956,"color":"#707070"},{"offset":0.956,"color":"#ffffff"},
{"offset":1,"color":"#ffffff"}]}},"encoding":{"x":{"field":"start","type":"quantitative","axis":null},"x2":{"field":"end"},"y":{"datum":1,"type":"quantitative","axis":null},"y2":{"datum":0}}},
{"data":{"name":"dSch"},"transform":[{"filter":"datum.stress == 1"}],"mark":{"type":"rect","fill":{"gradient":"linear","x1":0,"y1":0,"x2":1.0795,"y2":0.0947,"stops":[
{"offset":0,"color":"#6C9BD2"},
{"offset":0.044,"color":"#6C9BD2"},{"offset":0.044,"color":"#2C4A6E"},{"offset":0.056,"color":"#2C4A6E"},{"offset":0.056,"color":"#6C9BD2"},
{"offset":0.144,"color":"#6C9BD2"},{"offset":0.144,"color":"#2C4A6E"},{"offset":0.156,"color":"#2C4A6E"},{"offset":0.156,"color":"#6C9BD2"},
{"offset":0.244,"color":"#6C9BD2"},{"offset":0.244,"color":"#2C4A6E"},{"offset":0.256,"color":"#2C4A6E"},{"offset":0.256,"color":"#6C9BD2"},
{"offset":0.344,"color":"#6C9BD2"},{"offset":0.344,"color":"#2C4A6E"},{"offset":0.356,"color":"#2C4A6E"},{"offset":0.356,"color":"#6C9BD2"},
{"offset":0.444,"color":"#6C9BD2"},{"offset":0.444,"color":"#2C4A6E"},{"offset":0.456,"color":"#2C4A6E"},{"offset":0.456,"color":"#6C9BD2"},
{"offset":0.544,"color":"#6C9BD2"},{"offset":0.544,"color":"#2C4A6E"},{"offset":0.556,"color":"#2C4A6E"},{"offset":0.556,"color":"#6C9BD2"},
{"offset":0.644,"color":"#6C9BD2"},{"offset":0.644,"color":"#2C4A6E"},{"offset":0.656,"color":"#2C4A6E"},{"offset":0.656,"color":"#6C9BD2"},
{"offset":0.744,"color":"#6C9BD2"},{"offset":0.744,"color":"#2C4A6E"},{"offset":0.756,"color":"#2C4A6E"},{"offset":0.756,"color":"#6C9BD2"},
{"offset":0.844,"color":"#6C9BD2"},{"offset":0.844,"color":"#2C4A6E"},{"offset":0.856,"color":"#2C4A6E"},{"offset":0.856,"color":"#6C9BD2"},
{"offset":0.944,"color":"#6C9BD2"},{"offset":0.944,"color":"#2C4A6E"},{"offset":0.956,"color":"#2C4A6E"},{"offset":0.956,"color":"#6C9BD2"},
{"offset":1,"color":"#6C9BD2"}]}},"encoding":{"x":{"field":"start","type":"quantitative","axis":null},"x2":{"field":"end"},"y":{"datum":0,"type":"quantitative","axis":null},"y2":{"datum":-1}}},
{"data":{"name":"one"},"mark":{"type":"rule","stroke":"#111","strokeWidth":1.2},"encoding":{"x":{"datum":0,"type":"quantitative","axis":null},"y":{"datum":-1.2,"type":"quantitative","axis":null},"y2":{"datum":1.2}}},
{"data":{"name":"one"},"mark":{"type":"rule","stroke":"#111","strokeWidth":1.2},"encoding":{"x":{"datum":0,"type":"quantitative","axis":null},"x2":{"datum":99.6},"y":{"datum":0,"type":"quantitative","axis":null}}},
{"data":{"name":"one"},"mark":{"type":"point","shape":"triangle-up","filled":true,"color":"#111","size":18},"encoding":{"x":{"datum":0,"type":"quantitative","axis":null},"y":{"datum":1.2,"type":"quantitative","axis":null}}},
{"data":{"name":"one"},"mark":{"type":"point","shape":"triangle-down","filled":true,"color":"#111","size":18},"encoding":{"x":{"datum":0,"type":"quantitative","axis":null},"y":{"datum":-1.2,"type":"quantitative","axis":null}}},
{"data":{"name":"one"},"mark":{"type":"point","shape":"triangle-right","filled":true,"color":"#111","size":18},"encoding":{"x":{"datum":99.6,"type":"quantitative","axis":null},"y":{"datum":0,"type":"quantitative","axis":null}}},
{"data":{"name":"one"},"mark":{"type":"point","shape":"circle","filled":true,"color":"#111","size":22},"encoding":{"x":{"datum":0,"type":"quantitative","axis":null},"y":{"datum":0,"type":"quantitative","axis":null}}},
{"data":{"name":"one"},"mark":{"type":"text","text":"π Glu","angle":270,"fontSize":13,"align":"center","baseline":"middle","fill":"#111"},"encoding":{"x":{"datum":-3.74,"type":"quantitative","axis":null},"y":{"datum":0.12,"type":"quantitative","axis":null}}},
{"data":{"name":"one"},"mark":{"type":"text","text":"Alternating stresses","fontSize":16,"align":"center","baseline":"alphabetic","fill":"#111"},"encoding":{"x":{"datum":48,"type":"quantitative","axis":null},"y":{"datum":2.0,"type":"quantitative","axis":null}}}
]
},
{
"width":299,"height":226,"view":{"stroke":"#222","strokeWidth":1.6},
"layer":[
{"data":{"name":"cLine"},"mark":{"type":"area","fill":"#C8C8C8","clip":true},"encoding":{"x":{"field":"t","type":"quantitative","scale":{"domain":[-3.84,99.84],"nice":false,"zero":false},"axis":{"values":[0,12,24,36,48,60,72,84,96],"tickCount":30,"domain":false,"tickSize":5,"tickWidth":1.2,"tickColor":"#222","labelFontSize":11.5,"labelPadding":3,"labelFlush":false,"title":"Time in Period (min)","titleFontSize":15,"titlePadding":7,"titleFontWeight":"normal"}},"y":{"field":"lo","type":"quantitative","scale":{"domain":[-0.00036,0.00936],"nice":false,"zero":false},"axis":{"values":[0,0.002,0.004,0.006,0.008],"tickCount":30,"format":".3f","labelAngle":270,"labelAlign":"center","labelBaseline":"bottom","labelFontSize":10.5,"labelPadding":4,"labelFlush":false,"domain":false,"tickSize":5,"tickWidth":1.2,"tickColor":"#222","title":"Division Rate (min⁻¹)","titleFontSize":15,"titlePadding":11,"titleFontWeight":"normal"}},"y2":{"field":"hi"}}},
{"data":{"name":"one"},"mark":{"type":"rule","stroke":"#666","strokeWidth":1.6,"strokeDash":[9,5]},"encoding":{"x":{"datum":48,"type":"quantitative"},"y":{"datum":0.00914,"type":"quantitative"},"y2":{"datum":-0.00036}}},
{"data":{"name":"cMean"},"mark":{"type":"rule","stroke":"#222","strokeWidth":1.3,"strokeDash":[4,3]},"encoding":{"x":{"field":"t0","type":"quantitative"},"x2":{"field":"t1"},"y":{"field":"m","type":"quantitative"}}},
{"data":{"name":"cLine"},"mark":{"type":"line","stroke":"#222","strokeWidth":1.3},"encoding":{"x":{"field":"t","type":"quantitative"},"y":{"field":"rate","type":"quantitative"}}},
{"data":{"name":"cLine"},"mark":{"type":"point","filled":true,"color":"#222","size":10,"opacity":1},"encoding":{"x":{"field":"t","type":"quantitative"},"y":{"field":"rate","type":"quantitative"}}},
{"data":{"name":"one"},"mark":{"type":"text","text":"c","fontSize":22,"fontWeight":"bold","align":"left","baseline":"top","fill":"#000"},"encoding":{"x":{"datum":-23.6,"type":"quantitative"},"y":{"datum":0.013106,"type":"quantitative"}}}
]
},
{
"width":299,"height":226,"view":{"stroke":"#222","strokeWidth":1.6},
"layer":[
{"data":{"name":"dLine"},"mark":{"type":"area","fill":"#C8C8C8","clip":true},"encoding":{"x":{"field":"t","type":"quantitative","scale":{"domain":[-3.84,99.84],"nice":false,"zero":false},"axis":{"values":[0,12,24,36,48,60,72,84,96],"tickCount":30,"domain":false,"tickSize":5,"tickWidth":1.2,"tickColor":"#222","labelFontSize":11.5,"labelPadding":3,"labelFlush":false,"title":"Time in Period (min)","titleFontSize":15,"titlePadding":7,"titleFontWeight":"normal"}},"y":{"field":"lo","type":"quantitative","scale":{"domain":[-0.00036,0.00936],"nice":false,"zero":false},"axis":{"values":[0,0.002,0.004,0.006,0.008],"tickCount":30,"format":".3f","labelAngle":270,"labelAlign":"center","labelBaseline":"bottom","labelFontSize":10.5,"labelPadding":4,"labelFlush":false,"domain":false,"tickSize":5,"tickWidth":1.2,"tickColor":"#222","title":"Division Rate (min⁻¹)","titleFontSize":15,"titlePadding":11,"titleFontWeight":"normal"}},"y2":{"field":"hi"}}},
{"data":{"name":"one"},"mark":{"type":"rule","stroke":"#666","strokeWidth":1.6,"strokeDash":[9,5]},"encoding":{"x":{"datum":48,"type":"quantitative"},"y":{"datum":0.00914,"type":"quantitative"},"y2":{"datum":-0.00036}}},
{"data":{"name":"dMean"},"mark":{"type":"rule","stroke":"#222","strokeWidth":1.3,"strokeDash":[4,3]},"encoding":{"x":{"field":"t0","type":"quantitative"},"x2":{"field":"t1"},"y":{"field":"m","type":"quantitative"}}},
{"data":{"name":"dLine"},"mark":{"type":"line","stroke":"#222","strokeWidth":1.3},"encoding":{"x":{"field":"t","type":"quantitative"},"y":{"field":"rate","type":"quantitative"}}},
{"data":{"name":"dLine"},"mark":{"type":"point","filled":true,"color":"#222","size":10,"opacity":1},"encoding":{"x":{"field":"t","type":"quantitative"},"y":{"field":"rate","type":"quantitative"}}},
{"data":{"name":"one"},"mark":{"type":"text","text":"d","fontSize":22,"fontWeight":"bold","align":"left","baseline":"top","fill":"#000"},"encoding":{"x":{"datum":-22.9,"type":"quantitative"},"y":{"datum":0.013106,"type":"quantitative"}}}
]
}
],
"config":{"font":"Liberation Sans","view":{"stroke":null},"axis":{"labelFont":"Liberation Sans","titleFont":"Liberation Sans","labelColor":"#222","titleColor":"#111","grid":false,"labelOverlap":false,"labelBound":false,"labelFlush":false},"text":{"font":"Liberation Sans"},"title":{"font":"Liberation Sans","subtitleFont":"Liberation Sans"}}
}
